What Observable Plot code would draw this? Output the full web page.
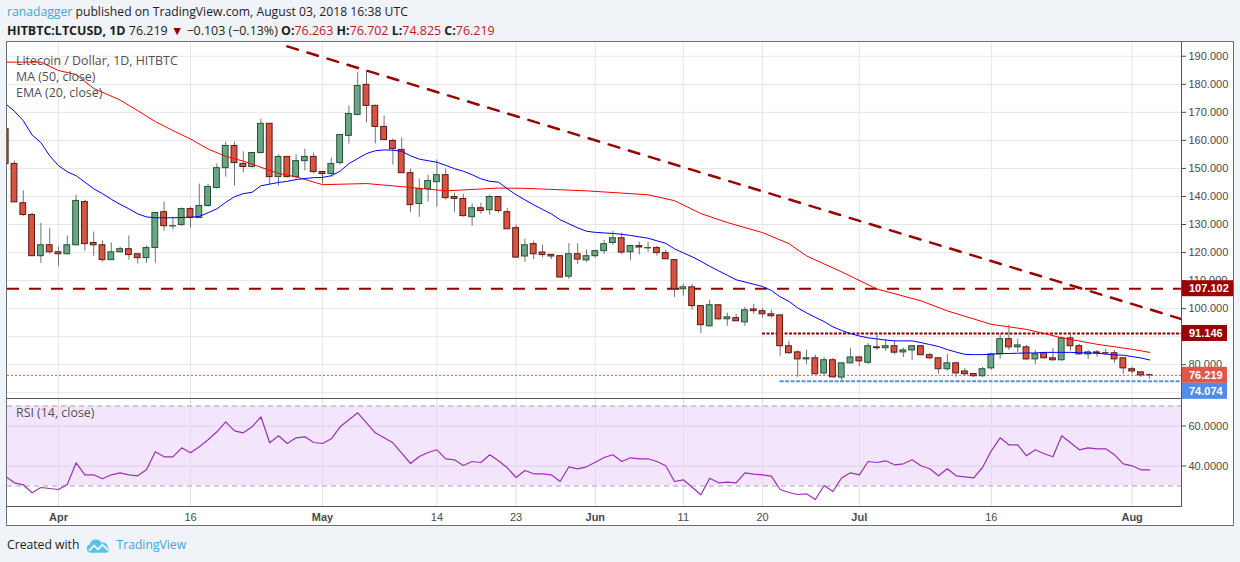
<!DOCTYPE html>
<html>
<head>
<meta charset="utf-8">
<script src="https://cdn.jsdelivr.net/npm/d3@7"></script>
<script src="https://cdn.jsdelivr.net/npm/@observablehq/plot@0.6"></script>
<style>
html,body{margin:0;padding:0}
body{width:1240px;height:562px;background:#f0f3f7;position:relative;overflow:hidden;font-family:"Open Sans",sans-serif}
.hdr{position:absolute;left:7px;white-space:nowrap;color:#1e1e1e;line-height:16px}
#h1{top:4px;font-size:12.2px}
#h2{top:23px;font-size:12.45px}
.b{font-weight:bold}
.r{color:#b71c1c}
.blue{color:#3ea6dc}
#frame{position:absolute;left:6px;top:41px;width:1228px;height:485px;box-sizing:border-box;border:1px solid #6f6f6f;background:#fff}
#main,#rsi{position:absolute;left:7px}
#main{top:42px}
#rsi{top:399px}
.sep{position:absolute;background:#555}
#footer{position:absolute;left:7px;top:536px;font-size:12.2px;line-height:18px;color:#1e1e1e;white-space:nowrap}
#footer svg{vertical-align:middle;margin:0 5px 0 7px}
svg{overflow:visible}
</style>
</head>
<body>
<div class="hdr" id="h1"><span class="blue">ranadagger</span> published on TradingView.com, August 03, 2018 16:38 UTC</div>
<div class="hdr" id="h2"><span class="b">HITBTC:LTCUSD, 1D</span> 76.219 <span style="color:#8b0000">&#9660;</span> &minus;0.103 (&minus;0.13%) <span class="b">O:</span><span class="r">76.263</span> <span class="b">H:</span><span class="r">76.702</span> <span class="b">L:</span><span class="r">74.825</span> <span class="b">C:</span><span class="r">76.219</span></div>
<div id="frame"></div>
<div id="main"></div>
<div id="rsi"></div>
<div class="sep" style="left:1181px;top:42px;width:1px;height:464px"></div>
<div class="sep" style="left:7px;top:398px;width:1175px;height:1px"></div>
<div class="sep" style="left:7px;top:506px;width:1175px;height:1px"></div>
<div id="footer">Created with<svg width="25" height="16" viewBox="0 0 26 16"><path d="M5 15 A4.5 4.5 0 0 1 4 6.2 A6.5 6.5 0 0 1 16 4.5 A5 5 0 0 1 22.5 9 A3.5 3.5 0 0 1 21.5 15 Z" fill="#5cc1ea"/><path d="M3 13 L8.5 7.5 L12.5 11.5 L17 6.5 L23 12.5" fill="none" stroke="#e9f6fc" stroke-width="2"/></svg><span class="blue">TradingView</span></div>
<script>
const DAY = 864e5;
const firstDay = "2018-03-26";
const lastDay = "2018-08-03";

const open = [
 164.1,151.6,137.6,133.4,118.7,122.6,
 120.1,119.4,122.6,138.0,123.4,122.6,117.3,120.1,121.2,119.4,
 118.0,121.6,134.4,129.3,129.8,135.5,132.3,136.6,143.0,150.1,
 158.0,151.6,150.5,155.5,165.9,146.9,154.1,146.9,152.6,154.1,
 148.7,148.0,151.9,161.6,169.1,179.8,172.3,164.8,159.8,156.6,
 148.3,137.3,142.6,145.1,147.6,139.8,139.1,132.6,135.8,135.1,
 139.8,134.4,128.7,118.6,123.0,120.0,119.2,118.7,111.4,119.4,117.2,
 118.7,120.5,123.4,125.1,120.1,122.3,121.5,121.6,119.8,117.3,
 106.9,107.6,100.9,93.7,101.2,96.2,96.6,95.1,99.7,99.1,
 98.0,97.6,86.6,84.4,81.9,82.3,76.9,81.6,75.4,80.5,
 82.6,80.7,86.2,85.9,86.6,84.4,85.1,86.6,83.4,82.3,
 78.4,80.5,77.6,76.7,75.9,78.7,83.7,89.1,86.2,86.2,
 81.9,84.1,82.3,81.6,89.4,86.6,83.7,84.4,84.1,84.1,82.3,
 78.4,77.3,76.263];
const high = [
 164.5,152.6,142.0,134.1,130.5,128.5,
 121.9,125.9,140.5,138.7,127.3,124.1,123.4,121.9,125.9,119.6,
 122.3,134.4,138.0,132.6,135.9,136.2,144.4,144.4,151.6,159.4,
 159.4,155.9,155.6,167.6,166.0,154.8,154.2,154.8,156.9,155.5,
 149.0,153.7,162.0,172.3,184.1,184.8,172.6,168.7,160.5,160.8,
 149.7,146.2,147.6,153.0,149.8,141.2,140.8,137.3,137.6,140.5,
 139.9,135.8,129.8,124.8,124.1,122.6,119.3,118.8,123.2,123.2,120.9,
 120.9,124.4,127.6,126.9,122.6,123.7,123.7,122.3,120.9,117.4,
 108.7,108.7,101.0,103.0,101.3,98.4,98.0,100.5,101.6,100.1,
 99.4,97.7,88.4,85.1,85.1,83.4,82.6,82.3,80.7,85.7,
 82.9,87.6,91.2,89.1,88.4,85.9,86.9,86.9,84.1,82.4,
 83.7,80.9,78.7,76.9,79.1,84.1,90.9,94.1,89.1,86.9,
 85.1,84.4,85.9,89.8,90.5,87.3,85.1,85.1,85.5,85.1,82.4,
 79.1,77.3,76.702];
const low = [
 151.0,137.9,132.9,118.7,116.1,119.4,
 115.0,119.1,122.3,120.5,118.7,116.6,117.3,119.8,117.3,115.9,
 116.2,116.2,127.6,128.0,129.4,128.7,132.1,136.2,142.6,146.9,
 143.7,148.4,150.1,155.1,144.1,143.7,146.6,146.2,149.1,148.0,
 144.4,146.8,151.2,158.7,168.7,166.2,158.7,159.9,151.2,148.2,
 134.4,132.6,138.0,136.2,138.7,134.4,132.6,129.4,133.7,133.3,
 134.1,128.2,117.9,116.5,117.5,118.2,117.5,110.9,110.4,115.7,116.5,
 118.0,119.3,122.6,119.3,117.2,119.1,120.0,118.7,117.5,104.0,
 104.4,99.4,91.1,93.4,95.9,93.7,95.4,93.7,98.0,96.6,
 96.6,83.0,83.7,75.5,80.1,76.4,76.2,75.3,74.2,80.3,
 79.3,80.0,85.1,84.8,83.6,82.5,81.4,83.2,81.8,76.6,
 77.6,75.5,75.9,75.5,75.5,78.0,81.9,85.1,84.4,81.6,
 80.0,82.0,81.2,81.2,84.8,83.4,81.9,82.6,83.4,80.5,76.6,
 76.6,75.5,74.825];
const close = [
 151.6,137.9,133.4,118.7,122.6,120.1,
 119.4,122.6,138.4,123.0,122.6,117.3,120.1,121.2,119.1,118.0,
 121.6,134.1,129.4,129.4,135.5,132.3,136.6,143.4,150.1,158.0,
 151.9,150.5,155.5,165.9,146.9,154.1,146.9,152.6,154.1,148.7,
 148.0,151.6,161.9,169.4,179.4,172.3,164.8,160.1,156.9,148.3,
 136.9,142.6,145.5,147.6,139.4,139.1,133.0,135.8,134.8,139.8,
 134.8,128.3,118.2,122.6,119.4,119.1,118.6,111.1,119.4,117.5,118.7,
 120.5,123.0,125.1,120.0,122.3,121.8,121.6,119.8,117.6,106.9,
 107.6,100.9,94.1,101.2,96.2,96.9,95.5,99.4,99.1,98.0,
 97.3,86.6,84.1,81.9,82.3,76.6,81.6,75.5,80.5,82.6,
 81.2,86.6,85.9,86.6,84.3,85.1,86.6,83.4,82.3,78.4,
 80.5,76.9,76.6,75.9,78.4,83.7,89.1,86.2,86.9,81.9,
 83.7,82.3,81.6,89.4,86.6,83.7,84.4,84.1,84.0,81.9,78.7,
 77.6,76.2,76.219];
const ema20 = [
 173.0,170.4,167.0,161.9,159.2,154.5,
 151.0,148.8,147.4,145.1,142.75,141.0,139.0,137.2,135.6,133.8,
 132.7,132.4,132.4,132.4,132.5,132.6,132.9,134.2,135.6,137.9,
 139.9,141.0,141.5,143.8,144.4,145.0,145.4,146.0,146.4,146.7,
 146.8,147.4,149.0,151.7,153.5,155.3,156.3,156.6,156.5,156.1,
 154.5,153.3,152.75,152.2,151.1,149.9,149.0,147.75,146.3,145.4,
 145.1,142.75,140.6,138.8,137.0,135.4,133.8,131.7,130.25,128.8,127.6,
 127.2,127.0,126.8,126.5,126.1,125.6,125.1,124.2,123.3,121.3,
 119.9,118.5,116.9,115.1,113.5,111.9,110.3,109.5,108.7,107.9,
 106.5,104.2,102.6,100.25,98.5,96.9,95.4,93.5,92.2,91.1,
 90.25,89.6,89.2,88.8,88.5,88.5,88.5,87.9,87.2,86.5,
 85.4,84.5,83.7,83.6,83.6,83.7,84.0,84.0,84.1,84.2,
 84.2,84.4,84.4,84.4,84.4,84.25,84.2,84.1,83.8,83.5,83.4,
 82.9,82.4,81.7];
const rsi14 = [
 34.75,31.6,30.6,26.6,29.25,28.75,
 28.25,30.75,41.6,35.6,35.6,33.6,35.6,36.6,35.6,35.1,
 38.1,47.1,44.6,44.6,49.1,46.6,49.6,53.1,57.1,62.1,
 57.6,56.6,59.6,64.6,51.6,55.1,51.25,54.1,54.6,51.75,
 51.25,53.6,59.6,63.1,66.6,61.6,56.6,54.1,51.6,46.4,
 41.25,44.75,46.75,48.1,43.6,43.1,40.25,42.25,41.75,45.6,
 42.6,39.1,34.25,37.75,36.1,36.1,35.6,32.25,39.6,38.6,39.6,
 41.9,44.25,45.6,42.25,44.1,43.6,43.6,42.25,40.1,32.25,
 33.1,29.4,25.6,33.9,31.6,31.9,31.6,36.6,35.9,35.6,
 34.9,28.25,26.75,25.75,26.1,23.25,30.25,27.25,34.1,36.6,
 35.6,42.25,41.75,42.6,40.6,41.1,43.1,40.1,38.6,35.1,
 38.6,35.1,34.6,34.1,39.25,47.6,54.1,50.6,50.6,45.1,
 48.1,46.1,44.6,55.1,51.6,48.1,49.1,48.6,48.6,45.6,41.1,
 40.1,38.1,38.1];
const ma50Dates = ["2018-03-26","2018-03-30","2018-04-01","2018-04-03","2018-04-05","2018-04-08","2018-04-10","2018-04-12","2018-04-14","2018-04-16","2018-04-18","2018-04-20","2018-04-22","2018-04-24","2018-04-26","2018-04-28","2018-05-01","2018-05-06","2018-05-10","2018-05-15","2018-05-21","2018-05-24","2018-05-31","2018-06-07","2018-06-10","2018-06-13","2018-06-16","2018-06-20","2018-06-23","2018-06-25","2018-06-29","2018-07-03","2018-07-08","2018-07-11","2018-07-16","2018-07-20","2018-07-24","2018-07-28","2018-08-01","2018-08-03"];
const ma50 = [187.9,187.9,184.9,183.5,178.5,174.4,170.6,166.7,163.5,160.5,156.9,154.3,152.6,150.4,148.2,147.0,144.2,144.6,143.5,142.0,143.0,142.9,142.0,140.6,138.5,133.9,130.7,127.1,123.2,118.8,113.1,107.0,102.8,99.2,94.4,92.6,89.6,87.3,85.5,84.4];

const priceTicks = [80,100,110,120,130,140,150,160,170,180,190];
const priceGrid = [70,80,90,100,110,120,130,140,150,160,170,180,190];
const rsiTicks = [40,60];
const dayTickDates = ["2018-04-16","2018-05-14","2018-05-23","2018-06-11","2018-06-20","2018-07-16"];
const monthTickDates = ["2018-04-01","2018-05-01","2018-06-01","2018-07-01","2018-08-01"];

const resistance = 107.102, rangeTop = 91.146, support = 74.074, lastPrice = 76.219;
const rangeTopStart = "2018-06-20", supportStart = "2018-06-22";
const trendDates = ["2018-04-27","2018-08-07"];
const trendValues = [193.5, 95.9];

const UP = "#6ba583", DOWN = "#d75442", UPB = "#225437", DOWNB = "#5b1a13";

// tables
const parse = s => new Date(s + "T00:00:00Z");
const days = d3.utcDay.range(parse(firstDay), new Date(+parse(lastDay) + DAY));
const candles = days.map((d, i) => ({date: d, o: open[i], h: high[i], l: low[i], c: close[i], up: close[i] >= open[i]}));
const emaData = days.map((d, i) => ({date: d, v: ema20[i]}));
const rsiData = days.map((d, i) => ({date: d, v: rsi14[i]}));
const maData = ma50Dates.map((d, i) => ({date: parse(d), v: ma50[i]}));
const trendData = trendDates.map((d, i) => ({date: parse(d), v: trendValues[i]}));
const gridDates = dayTickDates.concat(monthTickDates).map(parse);
const apr1 = Date.UTC(2018, 3, 1);
const xDomain = [new Date(apr1 - 5.795 * DAY), new Date(apr1 + 127.61 * DAY)];

const main = Plot.plot({
  width: 1226, height: 357,
  marginLeft: 0, marginRight: 52, marginTop: 0, marginBottom: 0,
  x: {type: "utc", domain: xDomain, axis: null},
  y: {domain: [67.6, 194.9], axis: null},
  style: {background: "transparent", fontFamily: "'Liberation Sans', Arial, sans-serif", fontSize: "11px", color: "#4a4a4a", overflow: "visible"},
  marks: [
    Plot.ruleY(priceGrid, {stroke: "#e6e6e6"}),
    Plot.ruleX(gridDates, {stroke: "#e6e6e6"}),
    Plot.axisY({anchor: "right", ticks: priceTicks, tickFormat: d3.format(".3f"), tickSize: 4, tickPadding: 3, label: null}),
    Plot.ruleY([{y: lastPrice}], {y: "y", stroke: "#e0533f", strokeWidth: 1, strokeDasharray: "2,2"}),
    Plot.ruleY([{y: support, x1: parse(supportStart), x2: xDomain[1]}], {y: "y", x1: "x1", x2: "x2", stroke: "#5292ee", strokeWidth: 2, strokeDasharray: "4,1.5"}),
    Plot.ruleY([{y: rangeTop, x1: parse(rangeTopStart), x2: xDomain[1]}], {y: "y", x1: "x1", x2: "x2", stroke: "#8b0000", strokeWidth: 2, strokeDasharray: "3,1.5"}),
    Plot.ruleY([{y: resistance}], {y: "y", stroke: "#990000", strokeWidth: 2, strokeDasharray: "12,10"}),
    Plot.ruleX(candles, {x: "date", y1: "l", y2: "h", stroke: "#737375", clip: true}),
    Plot.rect(candles, {
      x1: d => new Date(+d.date - 0.33 * DAY), x2: d => new Date(+d.date + 0.33 * DAY),
      y1: d => Math.min(d.o, d.c), y2: d => Math.max(d.o, d.c),
      fill: d => d.up ? UP : DOWN, stroke: d => d.up ? UPB : DOWNB, strokeWidth: 1, clip: true
    }),
    Plot.line(maData, {x: "date", y: "v", stroke: "#ff0000", strokeWidth: 1, clip: true}),
    Plot.line(emaData, {x: "date", y: "v", stroke: "#0000ff", strokeWidth: 1, clip: true}),
    Plot.line(trendData, {x: "date", y: "v", stroke: "#990000", strokeWidth: 2.5, strokeDasharray: "11,10", clip: true}),
    Plot.text(["Litecoin / Dollar, 1D, HITBTC\nMA (50, close)\nEMA (20, close)"], {frameAnchor: "top-left", textAnchor: "start", text: d => d, dx: 8.5, dy: 11, lineAnchor: "top", lineHeight: 1.3, fontSize: 12.4, fill: "#505050", fontFamily: "'Open Sans', sans-serif"})
  ]
});
document.getElementById("main").appendChild(main);

// price labels on the axis, positioned with the plot's own y scale
const ys = main.scale("y");
const svgMain = d3.select(main);
const boxes = [
  {v: resistance, bg: "#990000", w: 51},
  {v: rangeTop, bg: "#990000", w: 45},
  {v: lastPrice, bg: "#dd5846", w: 45},
  {v: support, bg: "#4f8de8", w: 45}
];
let prevBottom = -Infinity;
for (const b of boxes) {
  let top = ys.apply(b.v) - 8;
  if (top < prevBottom) top = prevBottom;
  prevBottom = top + 16;
  const g = svgMain.append("g").attr("text-anchor", "start");
  g.append("rect").attr("x", 1175).attr("y", top).attr("width", b.w).attr("height", 16).attr("fill", b.bg);
  g.append("text").attr("x", 1182).attr("y", top + 8).attr("dy", "0.35em").attr("fill", "#fff")
    .attr("text-anchor", "start")
    .attr("font-weight", "bold").attr("font-size", 11).attr("font-family", "'Liberation Sans', Arial, sans-serif")
    .text(d3.format(".3f")(b.v));
}

const rsiPlot = Plot.plot({
  width: 1226, height: 126,
  marginLeft: 0, marginRight: 52, marginTop: 0, marginBottom: 19,
  x: {type: "utc", domain: xDomain, axis: null},
  y: {domain: [19.75, 73.25], axis: null},
  style: {background: "transparent", fontFamily: "'Liberation Sans', Arial, sans-serif", fontSize: "11px", color: "#4a4a4a", overflow: "visible"},
  marks: [
    Plot.rect([0], {x1: () => xDomain[0], x2: () => xDomain[1], y1: () => 30, y2: () => 70, fill: "#f3e6fc"}),
    Plot.ruleY(rsiTicks, {stroke: "#dccfe6"}),
    Plot.ruleX(gridDates, {stroke: "#e2dbe8"}),
    Plot.ruleY([30, 70], {stroke: "#a9a1b1", strokeDasharray: "5,4"}),
    Plot.line(rsiData, {x: "date", y: "v", stroke: "#9c2fb8", strokeWidth: 1.2, clip: true}),
    Plot.axisY({anchor: "right", ticks: rsiTicks, tickFormat: d3.format(".4f"), tickSize: 4, tickPadding: 3, label: null}),
    Plot.text(dayTickDates.map(parse), {x: d => d, text: d3.utcFormat("%-d"), frameAnchor: "bottom", dy: 11, lineAnchor: "middle", fill: "#4a4a4a"}),
    Plot.text(monthTickDates.map(parse), {x: d => d, text: d3.utcFormat("%b"), frameAnchor: "bottom", dy: 11, lineAnchor: "middle", fontWeight: "bold", fill: "#4a4a4a"}),
    Plot.text(["RSI (14, close)"], {frameAnchor: "top-left", textAnchor: "start", text: d => d, dx: 8.5, dy: 9, lineAnchor: "top", fontSize: 12.4, fill: "#505050", fontFamily: "'Open Sans', sans-serif"})
  ]
});
document.getElementById("rsi").appendChild(rsiPlot);
</script>
</body>
</html>
